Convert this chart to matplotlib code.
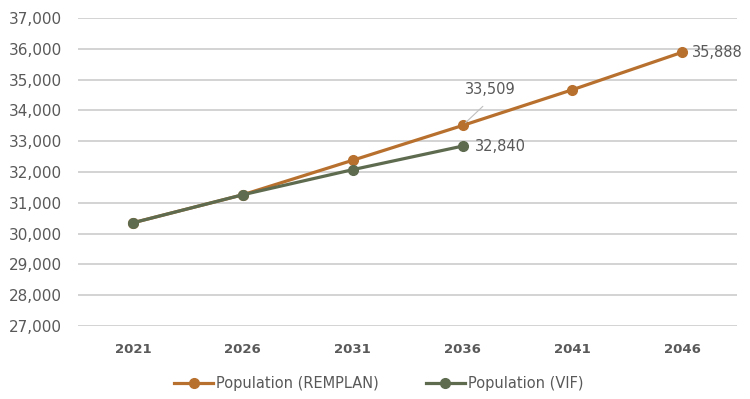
import matplotlib
matplotlib.use("Agg")
import matplotlib.pyplot as plt

years = ["2021", "2026", "2031", "2036", "2041", "2046"]
remplan = [30350, 31260, 32380, 33509, 34670, 35888]
vif = [30350, 31260, 32075, 32840]
yticks = list(range(27000, 37001, 1000))

orange = "#B8702E"
green = "#5E6B4F"
grey_text = "#595959"

fig = plt.figure(figsize=(7.5, 3.99), dpi=100)
ax = fig.add_axes([0.104, 0.183, 0.879, 0.772])

x_r = list(range(len(remplan)))
x_v = list(range(len(vif)))
ax.plot(x_r, remplan, color=orange, lw=2.3, marker="o", ms=7, zorder=3,
        label="Population (REMPLAN)")
ax.plot(x_v, vif, color=green, lw=2.3, marker="o", ms=7, zorder=4,
        label="Population (VIF)")

ax.set_xlim(-0.5, len(years) - 0.5)
ax.set_ylim(yticks[0], yticks[-1])
ax.set_yticks(yticks)
ax.set_yticklabels([f"{v:,}" for v in yticks], color=grey_text, fontsize=11)
ax.set_xticks(range(len(years)))
ax.set_xticklabels(years, color=grey_text, fontsize=9.5, fontweight="bold")
ax.tick_params(axis="both", length=0)
ax.tick_params(axis="x", pad=12)
ax.tick_params(axis="y", pad=11.5)
ax.grid(axis="y", color="#D0D0D0", lw=1.3)
ax.set_axisbelow(True)
for s in ax.spines.values():
    s.set_visible(False)

# value labels
ax.annotate(f"{remplan[-1]:,}", (x_r[-1], remplan[-1]), xytext=(7, 0),
            textcoords="offset points", va="center", ha="left",
            color=grey_text, fontsize=10.5, annotation_clip=False)
ax.annotate(f"{vif[-1]:,}", (x_v[-1], vif[-1]), xytext=(9, 0),
            textcoords="offset points", va="center", ha="left",
            color=grey_text, fontsize=10.5)
ax.annotate(f"{remplan[3]:,}", (x_r[3], remplan[3]), xytext=(20, 26),
            textcoords="offset points", va="center", ha="center",
            color=grey_text, fontsize=10.5,
            arrowprops=dict(arrowstyle="-", color="#BFBFBF", lw=0.8,
                            shrinkA=7, shrinkB=3, relpos=(0.55, 0.0)))

leg = fig.legend(loc="lower center", bbox_to_anchor=(0.505, -0.012), ncol=2,
                 frameon=False, fontsize=10.5, handlelength=2.7,
                 columnspacing=3.2, handletextpad=0.2)
for t in leg.get_texts():
    t.set_color(grey_text)

fig.savefig("out.png", dpi=100)
